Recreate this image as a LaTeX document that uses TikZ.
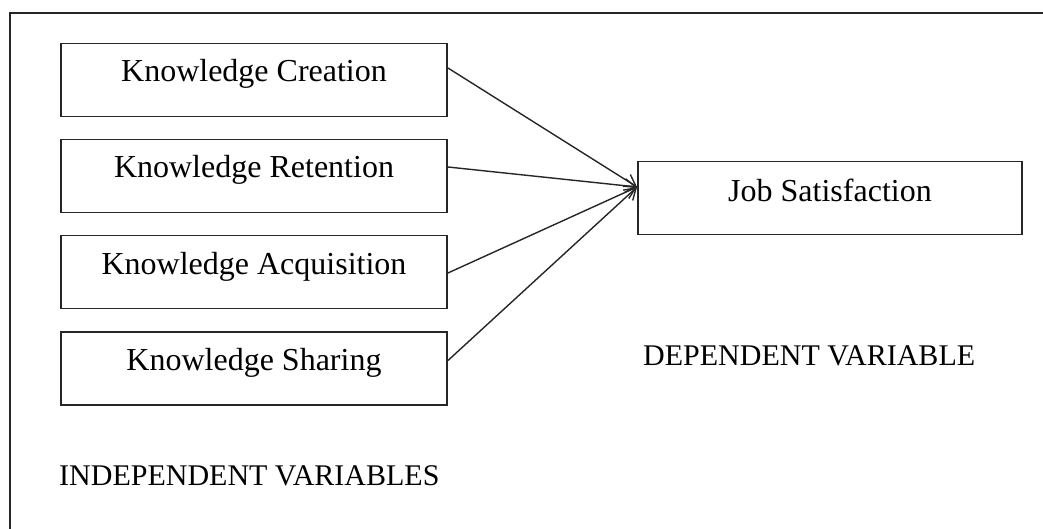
\documentclass[tikz,border=0pt]{standalone}
\usepackage{fontspec}
\setmainfont{Liberation Serif}
\usetikzlibrary{arrows.meta,calc}
\begin{document}
\begin{tikzpicture}[x=1pt,y=-1pt,
  varbox/.style={draw=black!85, line width=1.9pt, minimum width=386pt,
    minimum height=73pt, inner sep=0pt,
    font=\fontsize{32}{32}\selectfont, text height=22pt, text depth=18pt},
  link/.style={draw=black!85, line width=1.4pt,
    -{Straight Barb[length=11pt,width=14pt,line width=1.4pt]}},
  caption/.style={font=\fontsize{30}{30}\selectfont, inner sep=0pt}]
\useasboundingbox (0,0) rectangle (1043,529);
% outer frame (top and left edges)
\draw[line width=1.6pt, black!85] (1043,13) -- (10,13) -- (10,529);
% independent variables
\node[varbox] (kc) at (254,80)    {Knowledge Creation};
\node[varbox] (kr) at (254,176)   {Knowledge Retention};
\node[varbox] (ka) at (254,272)   {Knowledge Acquisition};
\node[varbox] (ks) at (254,368.5) {Knowledge Sharing};
% dependent variable
\node[varbox, minimum width=384pt, text height=24pt, text depth=16pt] (js) at (830,198) {Job Satisfaction};
\coordinate (tip) at ([yshift=11pt]js.west);
% links
\draw[link] ([yshift=12pt]kc.east) -- (tip);
\draw[link] ([yshift=9pt]kr.east) -- (tip);
\draw[link] ([yshift=-1pt]ka.east) -- (tip);
\draw[link] ([yshift=8pt]ks.east) -- (tip);
% captions
\node[caption, anchor=base west] (dep) at (643,365) {DEPENDENT VARIABLE};
\node[caption, anchor=base west] (indep) at (59,485) {INDEPENDENT VARIABLES};
\end{tikzpicture}
\end{document}
